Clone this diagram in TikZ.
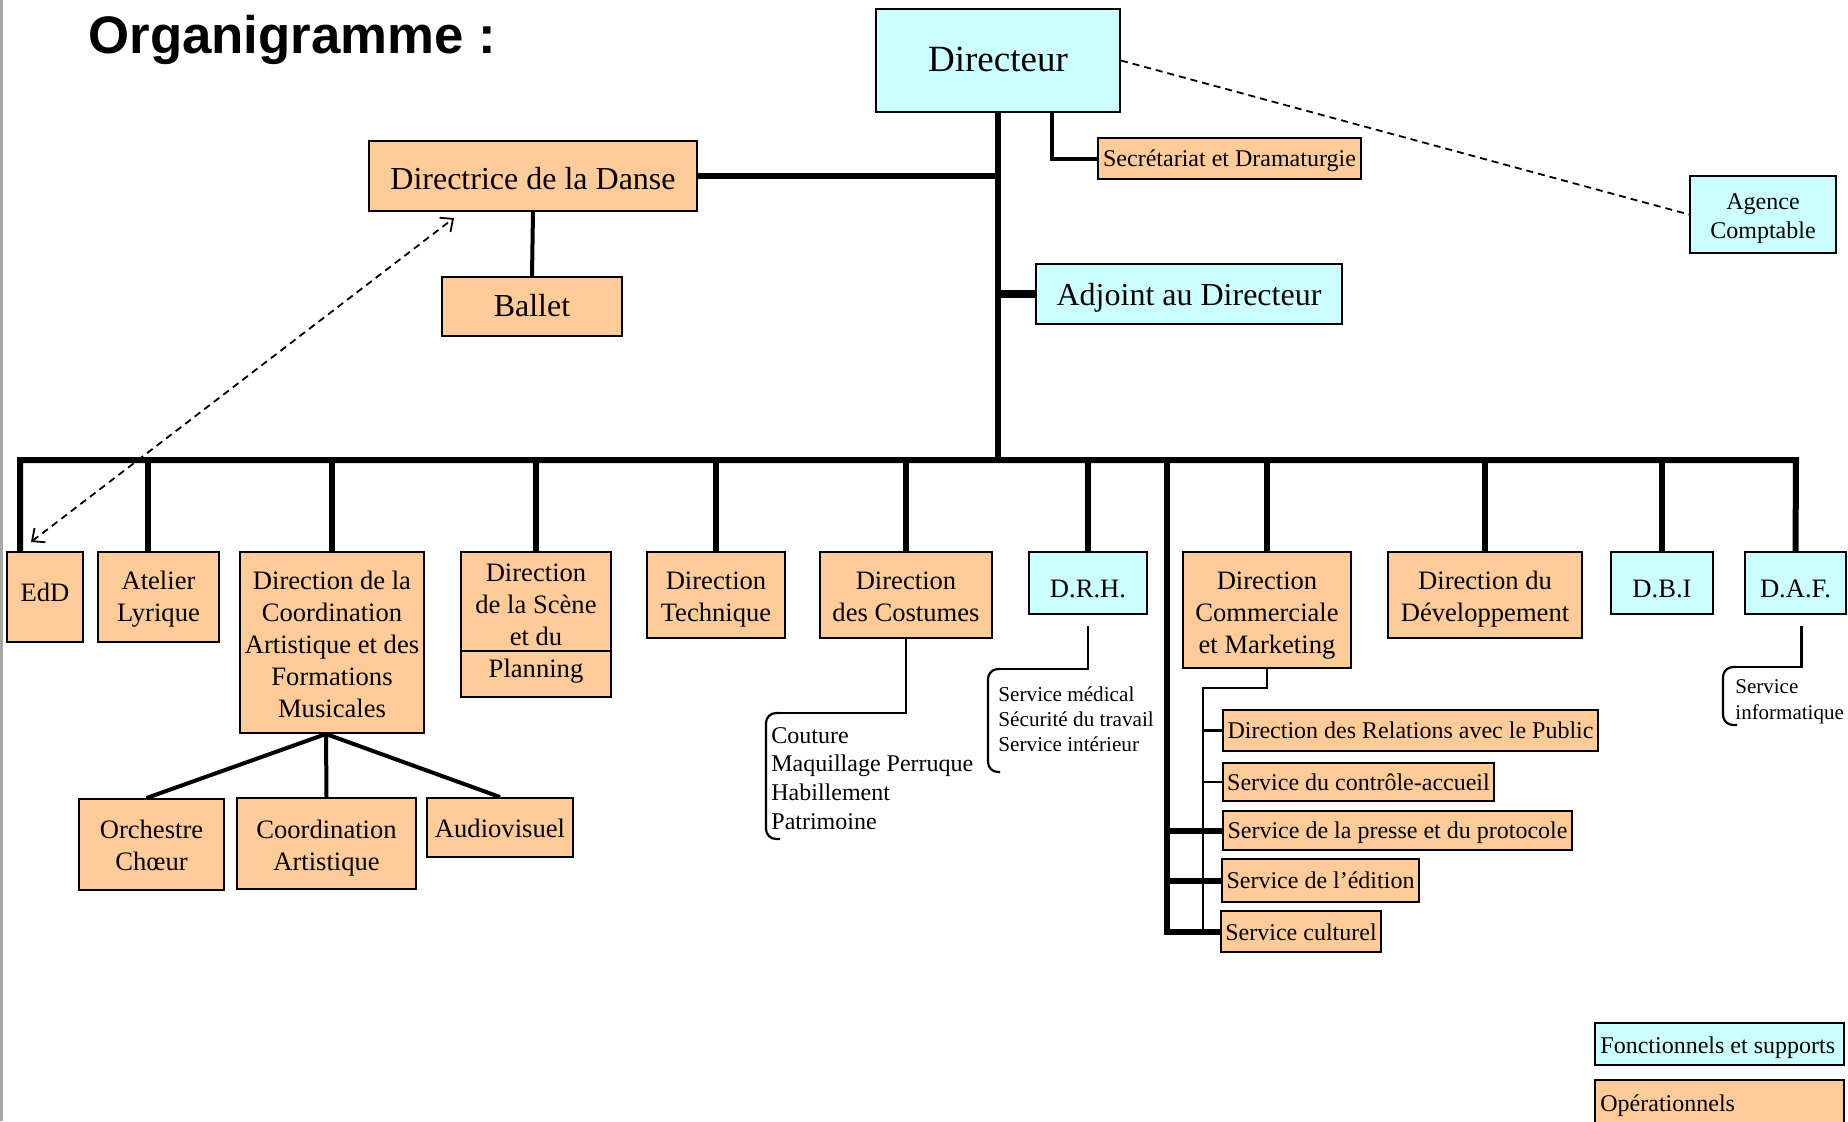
\documentclass[tikz,border=0pt]{standalone}
\usepackage{fontspec}
\setmainfont{Liberation Serif}
\newfontfamily\titlefont{Liberation Sans}
\usetikzlibrary{arrows.meta}
\definecolor{orangebox}{HTML}{FFCC99}
\definecolor{cyanbox}{HTML}{CCFFFF}
% name, x1, y1, x2, y2, box style, text style, text
\newcommand\bx[8]{%
  \node[#6, minimum width={(#4-#2)*0.5pt}, minimum height={(#5-#3)*0.5pt}] (#1) at ({(#2+#4)/2},{(#3+#5)/2}) {};
  \node[boxtext, #7] (#1-t) at (#1.center) {#8};}
\tikzset{
  basebox/.style={draw=black, line width=1pt, inner sep=0pt},
  obox/.style={basebox, fill=orangebox},
  cbox/.style={basebox, fill=cyanbox},
  boxtext/.style={inner sep=0pt, align=center, font=\fontsize{13.3}{16}\selectfont,
    execute at begin node={\strut}, execute at end node={\strut}},
  big/.style={font=\fontsize{16}{19}\selectfont},
  small/.style={font=\fontsize{12}{14.5}\selectfont},
  buslw/.style={line width=3pt},
  droplw/.style={line width=2.6pt},
  medl/.style={line width=2pt},
  thinl/.style={line width=1.1pt},
  dashl/.style={line width=0.9pt, dash pattern=on 3.5pt off 2.5pt},
  listtxt/.style={inner sep=0pt, align=left, anchor=west},
}
\begin{document}
\begin{tikzpicture}[x=0.5pt,y=-0.5pt]
\useasboundingbox (0,0) rectangle (1848,1121);
\draw[gray!70, line width=1.2pt] (1.5,0) -- (1.5,1121);
\node[anchor=base west, inner sep=0pt, font=\titlefont\fontsize{26.4}{30}\selectfont\bfseries] (title) at (88,53) {Organigramme :};
% top boxes
\bx{Dir}{876}{9}{1120}{112}{cbox}{font=\fontsize{18.5}{22}\selectfont, yshift=-1pt}{Directeur}
\bx{Sec}{1098}{138}{1361}{179}{obox}{small, yshift=-1.2pt}{Secrétariat et Dramaturgie}
\bx{Agence}{1690}{176}{1836}{253}{cbox}{small, yshift=-3pt}{Agence\\Comptable}
\bx{Danse}{369}{141}{697}{211}{obox}{big, yshift=-3pt}{Directrice de la Danse}
\bx{Ballet}{442}{277}{622}{336}{obox}{big, yshift=-1.2pt}{Ballet}
\bx{Adj}{1036}{264}{1342}{324}{cbox}{big, yshift=-1.8pt}{Adjoint au Directeur}
% row
\bx{EdD}{7}{552}{83}{642}{obox}{yshift=1pt}{EdD}
\bx{AL}{98}{552}{219}{642}{obox}{yshift=-1.8pt}{Atelier\\Lyrique}
\bx{Coord}{240}{552}{424}{733}{obox}{yshift=-3.2pt}{Direction de la\\Coordination\\Artistique et des\\Formations\\Musicales}
\bx{Scene}{461}{552}{611}{697}{obox}{yshift=-0.6pt}{Direction\\de la Scène\\et du\\Planning}
\bx{Tech}{647}{552}{785}{638}{obox}{yshift=-3pt}{Direction\\Technique}
\bx{Cost}{820}{552}{992}{638}{obox}{yshift=-3pt}{Direction\\des Costumes}
\bx{DRH}{1029}{552}{1147}{614}{cbox}{yshift=-4pt}{D.R.H.}
\bx{Com}{1183}{552}{1351}{668}{obox}{yshift=-3.5pt}{Direction\\Commerciale\\et Marketing}
\bx{Dev}{1388}{552}{1582}{638}{obox}{yshift=-3pt}{Direction du\\Développement}
\bx{DBI}{1611}{552}{1713}{614}{cbox}{yshift=-4pt}{D.B.I}
\bx{DAF}{1745}{552}{1846}{614}{cbox}{yshift=-4pt}{D.A.F.}
% sub of coordination
\bx{Orch}{79}{799}{224}{890}{obox}{yshift=-3pt}{Orchestre\\Chœur}
\bx{CoA}{237}{798}{416}{889}{obox}{yshift=-3.5pt}{Coordination\\Artistique}
\bx{Audio}{427}{798}{573}{857}{obox}{yshift=-1.8pt}{Audiovisuel}
% services
\bx{RP}{1223}{710}{1598}{751}{obox}{small, yshift=-1.2pt}{Direction des Relations avec le Public}
\bx{CA}{1223}{763}{1494}{801}{obox}{small, yshift=-1.2pt}{Service du contrôle-accueil}
\bx{PP}{1223}{811}{1572}{850}{obox}{small, yshift=-1.2pt}{Service de la presse et du protocole}
\bx{Ed}{1222}{859}{1419}{902}{obox}{small, yshift=-1.2pt}{Service de l’édition}
\bx{Cu}{1221}{911}{1381}{952}{obox}{small, yshift=-1.6pt}{Service culturel}
% legend
\bx{leg1}{1595}{1023}{1844}{1065}{cbox}{small}{}
\node[boxtext, small, anchor=west, yshift=-1.8pt] (leg1-t) at ([xshift=3pt]leg1.west) {Fonctionnels et supports};
\bx{leg2}{1595}{1080}{1844}{1125}{obox}{small}{}
\node[boxtext, small, anchor=west, yshift=-1.8pt] (leg2-t) at ([xshift=3pt]leg2.west) {Opérationnels};
% coordinates
\coordinate (busL) at (20,460);
\coordinate (busR) at (1796,460);
\coordinate (alx) at (148,460);
\coordinate (vx2) at (1167,460);
\coordinate (sceneLine) at (0,651);
\coordinate (cy1) at (0,688);
\coordinate (tx) at (1203,0);
% Scene internal line
\draw[line width=1pt] (Scene.west |- sceneLine) -- (Scene.east |- sceneLine);
% trunk and bus
\draw[buslw] (Dir.south) -- (Dir.south |- busL);
\draw[buslw, line join=miter] (busL |- EdD.north) -- (busL) -- (busR) -- (DAF.north);
\foreach \n in {Coord,Scene,Tech,Cost,DRH,Com,Dev,DBI} \draw[droplw] (\n.north |- busL) -- (\n.north);
\draw[droplw] (alx) -- (alx |- AL.north);
\draw[buslw, line join=miter] (vx2) -- (vx2 |- Cu.west) -- (Cu.west);
\draw[buslw] (vx2 |- PP.west) -- (PP.west);
\draw[buslw] (vx2 |- Ed.west) -- (Ed.west);
\draw[buslw] (Danse.east) -- (Danse.east -| Dir.south);
\draw[line width=4pt] (Adj.west) -- (Adj.west -| Dir.south);
\draw[medl] (Danse.south) -- (Ballet.north);
\draw[medl] ([xshift=27pt]Dir.south) |- (Sec.west);
\draw[dashl] (Dir.east) -- (Agence.west);
\draw[dashl, {Straight Barb[length=5pt,width=9pt]}-{Straight Barb[length=5pt,width=9pt]}] ([shift={(-7pt,4.5pt)}]EdD.north) -- ([shift={(43pt,-3pt)}]Danse.south west);
% coordination fan
\coordinate (fan) at ([xshift=-3pt]Coord.south);
\draw[medl] (fan) -- ([xshift=-2.5pt]Orch.north);
\draw[medl] (fan) -- (CoA.north);
\draw[medl] (fan) -- (Audio.north);
% commercial
\draw[thinl] (Com.south) -- (Com.south |- cy1) -| (tx |- Cu.west);
\foreach \s in {RP,CA,PP,Ed,Cu} \draw[thinl] (tx |- \s.west) -- (\s.west);
% costumes list
\coordinate (c1) at (780,713);
\draw[thinl] (Cost.south) |- (c1);
\draw[thinl, rounded corners=5pt] (c1) -- (766,713) -- (766,839) -- (780,839);
\node[listtxt, font=\fontsize{12}{14.3}\selectfont, yshift=-1.2pt] (costL) at (771,776) {Couture\\Maquillage Perruque\\Habillement\\Patrimoine};
% DRH list
\coordinate (d1) at (1000,669);
\draw[thinl] ([yshift=-5.5pt]DRH.south) |- (d1);
\draw[thinl, rounded corners=5pt] (d1) -- (988,669) -- (988,772) -- (1000,772);
\node[listtxt, font=\fontsize{10.6}{12.7}\selectfont, yshift=-0.6pt] (drhL) at (998,718) {Service médical\\Sécurité du travail\\Service intérieur};
% DAF list
\coordinate (f1) at (1736,667);
\draw[thinl] ([shift={(3pt,-5.5pt)}]DAF.south) |- (f1);
\draw[thinl, rounded corners=5pt] (f1) -- (1723,667) -- (1723,725) -- (1737,725);
\node[listtxt, font=\fontsize{10.5}{13}\selectfont, yshift=-1.8pt] (dafL) at (1735,698) {Service\\informatique};
\end{tikzpicture}
\end{document}
